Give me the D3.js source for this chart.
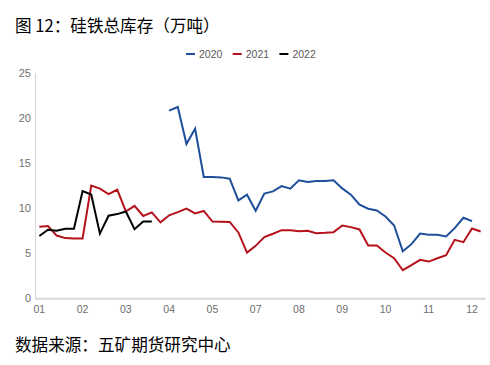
<!DOCTYPE html>
<html><head><meta charset="utf-8">
<script src="https://cdn.jsdelivr.net/npm/d3@7"></script>
<style>
html,body{margin:0;padding:0;background:#fff;}
svg{display:block;}
</style></head>
<body>
<svg id="c" width="490" height="365"></svg>
<script>
const tickLabels = ["01","02","03","04","05","07","08","09","10","11","12"];
const tickIndex = [0,5,10,15,20,25,30,35,40,45,50];
const seriesNames = ["2020","2021","2022"];
const seriesColors = ["#1f4e9b","#b5121b","#000000"];
const N = 52;
const s2020 = [null,null,null,null,null,null,null,null,null,null,null,null,null,null,null,
  20.8,21.2,17.1,18.8,13.45,13.45,13.4,13.25,10.85,11.48,9.7,11.6,11.85,12.44,12.15,13.07,12.89,13.0,13.0,13.07,
  12.18,11.48,10.37,9.93,9.74,9.07,8.07,5.22,6.0,7.18,7.03,7.03,6.85,7.78,8.92,8.55,null];
const s2021 = [7.92,8.0,6.95,6.67,6.63,6.63,12.5,12.15,11.55,12.03,9.62,10.24,9.12,9.52,8.42,9.2,9.55,9.95,9.4,9.68,
  8.5,8.48,8.46,7.3,5.07,5.81,6.78,7.15,7.55,7.55,7.44,7.48,7.22,7.26,7.33,8.07,7.89,7.63,5.85,5.85,
  5.07,4.44,3.11,3.67,4.26,4.07,4.44,4.78,6.48,6.22,7.74,7.41];
const s2022 = [6.9,7.6,7.5,7.7,7.7,11.88,11.5,7.17,9.15,9.33,9.62,7.66,8.5,8.5];
const yTicks = [0,5,10,15,20,25];

const svg = d3.select("#c");
const x = d3.scaleBand().domain(d3.range(N)).range([35,485]);
const y = d3.scaleLinear().domain([0,25]).range([298.3,72.7]);

// title
svg.append("text").attr("x",15).attr("y",32)
  .attr("font-family","'Noto Sans CJK SC', sans-serif").attr("font-size",16.6).attr("fill","#000")
  .text("图 12：硅铁总库存（万吨）");

// legend
const lg = svg.append("g").attr("transform","translate(186,54)");
seriesNames.forEach((n,i)=>{
  const g = lg.append("g").attr("transform",`translate(${i*46.7},0)`);
  g.append("line").attr("x1",0).attr("x2",9).attr("y1",0).attr("y2",0)
    .attr("stroke",seriesColors[i]).attr("stroke-width",2);
  g.append("text").attr("x",13).attr("y",4).attr("font-family","'Liberation Sans', Arial, sans-serif")
    .attr("font-size",10.5).attr("fill","#595959").text(n);
});

// y axis
const ya = svg.append("g").attr("transform","translate(35,0)")
  .call(d3.axisLeft(y).tickValues(yTicks).tickSize(0).tickPadding(4));
ya.select(".domain").attr("stroke","#d9d9d9").attr("stroke-width",1.2);
ya.selectAll("text").attr("font-family","'Liberation Sans', Arial, sans-serif").attr("font-size",11).attr("fill","#6e6e6e");

// x axis
const xa = svg.append("g").attr("transform","translate(0,298.3)")
  .call(d3.axisBottom(x).tickValues(tickIndex).tickFormat((d,i)=>tickLabels[i]).tickSize(0).tickPadding(7));
xa.select(".domain").attr("stroke","#d9d9d9").attr("stroke-width",2);
xa.selectAll("text").attr("font-family","'Liberation Sans', Arial, sans-serif").attr("font-size",10.5).attr("fill","#6e6e6e");

// lines
const line = d3.line().defined(d=>d.v!=null)
  .x(d=>x(d.i)+x.bandwidth()/2).y(d=>y(d.v));
[s2020,s2021,s2022].forEach((s,k)=>{
  const data = s.map((v,i)=>({i,v}));
  svg.append("path").datum(data).attr("d",line).attr("fill","none")
    .attr("stroke",seriesColors[k]).attr("stroke-width",2).attr("stroke-linejoin","miter");
});

// source
svg.append("text").attr("x",15).attr("y",351)
  .attr("font-family","'Noto Sans CJK SC', sans-serif").attr("font-size",16.6).attr("fill","#000")
  .text("数据来源：五矿期货研究中心");
</script>
</body></html>
